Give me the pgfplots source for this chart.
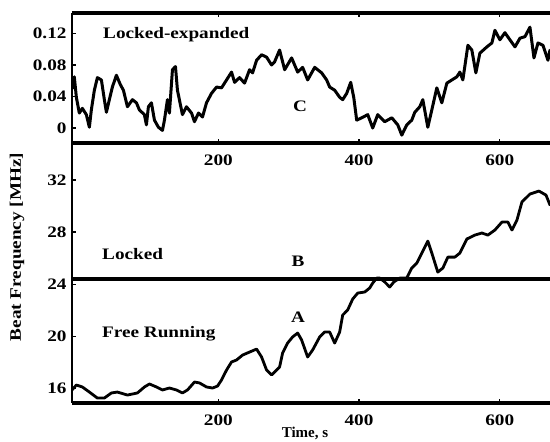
\documentclass[border=0pt]{standalone}
\usepackage{fontspec}
\setmainfont{Liberation Serif}[FakeStretch=1.2]
\newfontfamily\plainserif{Liberation Serif}
\usepackage{pgfplots}
\pgfplotsset{compat=1.18}
\begin{document}
\fontsize{16}{19}\selectfont\bfseries
\begin{tikzpicture}
\useasboundingbox (-72pt,-39pt) rectangle (478pt,403pt);
\pgfplotsset{
  common/.style={
    scale only axis, width=478pt,
    xmin=-8, xmax=671.5,
    xtick={200,400,600},
    tick align=inside, major tick length=4pt,
    tick style={line width=1.2pt,black},
    /pgf/number format/assume math mode=true,
    separate axis lines,
    ticklabel style={font=\bfseries},
    clip=true,
    y axis line style={line width=2.2pt},
  },
  curve/.style={black, line width=2.8pt, line join=round, line cap=round, mark=none},
}
% lower panel
\begin{axis}[common,
  at={(0pt,0pt)}, anchor=south west,
  height=260pt,
  ymin=14.88, ymax=34.84,
  ytick={16,20,24,28,32},
  axis x line*=bottom, axis y line*=left,
  x axis line style={line width=3.5pt},
  xticklabel style={yshift=-6pt},
]
\addplot[curve] coordinates {
(-8,15.88) (-1.8,16.26) (6.7,16.11) (16.7,15.72) (28.0,15.26) (38.0,15.26)
(48.0,15.65) (56.5,15.72) (70.8,15.49) (85.0,15.65) (95.0,16.11) (102.1,16.34)
(112.1,16.11) (120.6,15.88) (130.5,16.03) (140.5,15.88) (149.0,15.65) (156.2,15.88)
(166.1,16.49) (173.2,16.42) (183.2,16.11) (191.8,16.03) (198.9,16.18) (204.6,16.65)
(211.7,17.41) (218.8,18.03) (225.9,18.18) (234.5,18.56) (244.4,18.79) (254.4,19.02)
(261.5,18.41) (268.6,17.41) (275.7,17.03) (287.1,17.64) (291.4,18.72) (298.5,19.48)
(305.6,19.95) (312.8,20.25) (318.4,19.72) (327.0,18.41) (334.1,18.95) (344.1,19.95)
(351.2,20.33) (358.3,20.33) (365.4,19.48) (372.5,20.33) (376.8,21.63) (383.9,22.02)
(391.0,22.86) (398.2,23.32) (408.1,23.40) (415.2,23.71) (419.5,24.09) (425.2,24.47)
(429.5,24.47) (436.6,24.17) (443.7,23.78) (449.4,24.17) (458.0,24.47) (467.9,24.47)
(475.0,25.24) (482.2,25.63) (489.3,26.39) (497.8,27.31) (503.5,26.39) (512.0,24.93)
(519.2,25.24) (526.3,26.08) (536.2,26.08) (543.4,26.39) (553.3,27.47) (564.7,27.77)
(574.7,27.93) (583.2,27.77) (593.2,28.16) (603.2,28.77) (611.7,28.77) (617.4,28.16)
(624.5,28.92) (631.6,30.31) (643.0,30.92) (655.8,31.15) (665.8,30.84) (671.5,30.08)
};
\addplot[black, line width=3.5pt, mark=none] coordinates {(-8,24.4) (671.5,24.4)};
\end{axis}
% top panel
\begin{axis}[common,
  at={(0pt,260pt)}, anchor=south west,
  height=130pt,
  ymin=-0.019, ymax=0.146,
  ytick={0,0.04,0.08,0.12},
  scaled y ticks=false,
  yticklabel style={/pgf/number format/fixed, /pgf/number format/precision=2},
  axis x line*=box, axis y line*=left,
  xticklabel pos=lower,
  x axis line style={line width=3.5pt},
  xticklabel style={yshift=-6pt},
]
\addplot[curve, line width=3pt] coordinates {
(-7.5,0.050) (-4.7,0.065) (-1.8,0.039) (2.4,0.019) (6.7,0.025) (12.4,0.017)
(16.7,0.001) (19.5,0.023) (23.8,0.048) (28.1,0.064) (33.8,0.061) (38.0,0.036)
(40.9,0.020) (45.1,0.036) (49.4,0.052) (55.1,0.067) (60.8,0.055) (65.1,0.048)
(70.8,0.027) (77.9,0.036) (83.6,0.032) (87.8,0.023) (94.9,0.017) (97.8,0.004)
(100.6,0.027) (104.9,0.032) (109.2,0.010) (114.9,0.001) (120.6,-0.003) (123.4,0.010)
(127.7,0.036) (130.5,0.019) (134.8,0.074) (139.1,0.078) (141.9,0.048) (149.0,0.017)
(154.7,0.027) (161.9,0.019) (166.1,0.008) (171.8,0.019) (177.5,0.014) (183.2,0.032)
(190.3,0.044) (197.5,0.052) (204.6,0.051) (211.7,0.061) (218.8,0.071) (223.1,0.058)
(230.2,0.064) (237.3,0.057) (244.4,0.074) (248.7,0.070) (254.4,0.086) (261.5,0.093)
(268.6,0.090) (275.7,0.080) (280.0,0.084) (287.1,0.099) (294.3,0.074) (304.2,0.089)
(312.8,0.071) (319.9,0.077) (327.0,0.061) (337.0,0.077) (346.9,0.070) (354.0,0.061)
(358.3,0.052) (365.4,0.048) (372.5,0.039) (376.8,0.036) (382.5,0.044) (388.2,0.058)
(392.5,0.039) (396.7,0.010) (403.9,0.013) (412.4,0.017) (419.5,0.000) (426.6,0.017)
(436.6,0.008) (446.6,0.013) (455.1,0.004) (460.8,-0.009) (467.9,0.004) (475.0,0.010)
(479.3,0.020) (486.4,0.027) (490.7,0.036) (497.8,0.001) (503.5,0.023) (510.6,0.051)
(517.7,0.032) (524.9,0.057) (532.0,0.061) (539.1,0.065) (543.4,0.071) (547.6,0.061)
(554.8,0.105) (560.4,0.099) (566.1,0.070) (571.8,0.095) (581.8,0.103) (588.9,0.108)
(593.2,0.124) (600.3,0.112) (607.4,0.121) (614.5,0.112) (621.7,0.103) (628.8,0.114)
(635.9,0.116) (643.0,0.128) (648.7,0.089) (654.4,0.108) (661.5,0.105) (668.6,0.086)
(671.5,0.099)
};
\end{axis}
\node[anchor=base west, inner sep=0pt] at (31pt,364pt) {Locked-expanded};
\node[anchor=base, inner sep=0pt] at (228pt,291pt) {C};
\node[anchor=base west, inner sep=0pt] at (30pt,143pt) {Locked};
\node[anchor=base, inner sep=0pt] at (226pt,136pt) {B};
\node[anchor=base, inner sep=0pt] at (226pt,80pt) {A};
\node[anchor=base west, inner sep=0pt] at (30pt,65pt) {Free Running};
\node[anchor=base, inner sep=0pt] at (233pt,-35pt) {\plainserif\bfseries\fontsize{15}{18}\selectfont Time, s};
\node[rotate=90, inner sep=0pt] at (-55pt,156pt) {Beat Frequency [MHz]};
\end{tikzpicture}
\end{document}
